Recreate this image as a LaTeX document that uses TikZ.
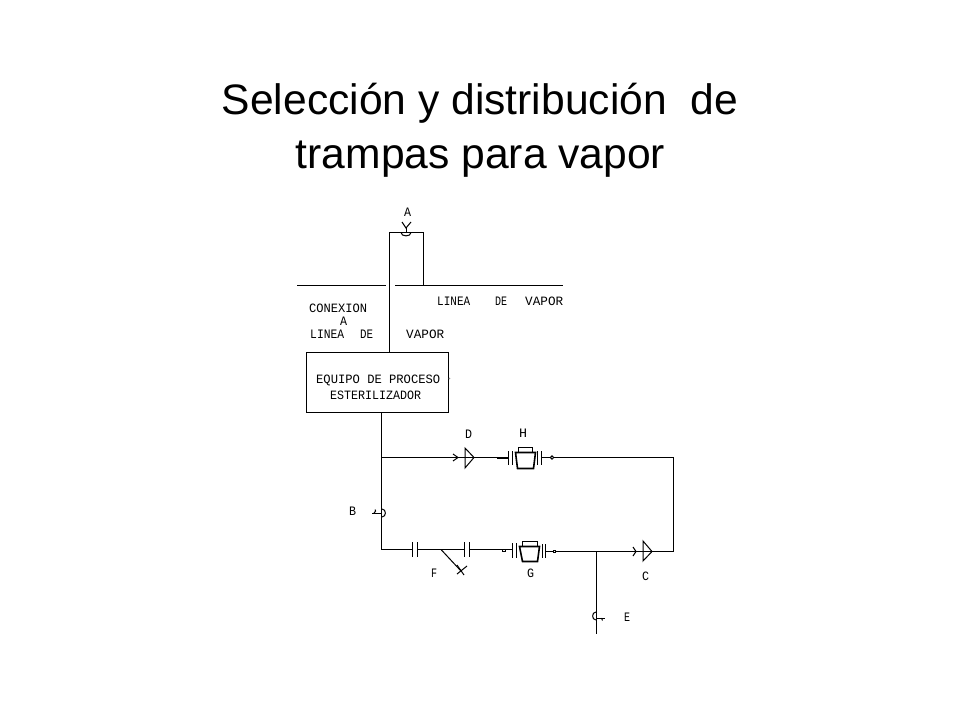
\documentclass[tikz,border=0pt]{standalone}
\usepackage{fontspec}
\setmainfont{Liberation Sans}
\newfontfamily\cadfont{Liberation Mono}
\newcommand{\cadtxt}[2]{\resizebox{#1pt}{8.5pt}{\cadfont #2}}
\tikzset{
  pipe/.style={line width=1.6pt,black},
  thin pipe/.style={line width=1pt,black},
  cadlabel/.style={inner sep=0pt,anchor=base west,text=black},
  titletext/.style={inner sep=0pt,anchor=base,font=\fontsize{42.6}{48}\selectfont,text=black}
}
\begin{document}
\begin{tikzpicture}[x=1pt,y=-1pt]
\useasboundingbox (0,0) rectangle (960,720);
\fill[white] (0,0) rectangle (960,720);
% title
\node[titletext] (t1) at (480,114) {Selección y distribución\ \ de};
\node[titletext] (t2) at (480.5,168) {trampas para vapor};
% upper pipes
\draw[pipe] (297,285.5) -- (386,285.5);
\draw[pipe] (395,285.5) -- (563,285.5);
\draw[pipe] (389.5,352.5) -- (389.5,232.5) -- (423.5,232.5) -- (423.5,285.5);
% valve A
\draw[thin pipe] (402,222) -- (406,228) -- (411,222);
\draw[thin pipe] (406,228) -- (406,232);
\draw[thin pipe] (401,232.5) .. controls (401,237) and (411,237) .. (411,232.5);
% box
\draw[pipe] (306.5,352.5) rectangle (448.5,412.5);
\fill[black!45] (449.5,378.5) circle (0.8);
% main lines
\draw[pipe] (381.5,412.5) -- (381.5,549.5) -- (412.5,549.5);
\draw[pipe] (381.5,457.5) -- (497,457.5);
\draw[line width=2.2pt] (497,458) -- (508,458);
\draw[pipe] (541,457.5) -- (673.5,457.5) -- (673.5,551.5);
\draw[pipe] (417,549.5) -- (464,549.5);
\draw[pipe] (469,549.5) -- (512,549.5);
\draw[pipe] (545,551.5) -- (673.5,551.5);
\draw[pipe] (596.5,551.5) -- (596.5,634);
% valve D
\draw[thin pipe] (453,454) -- (458,457.5) -- (453,461);
\draw[thin pipe] (465,448) -- (465,468) -- (474,457.5) -- cycle;
% trap H
\draw[pipe] (508.5,451) -- (508.5,465) (512.5,451) -- (512.5,465);
\draw[pipe] (537.5,451) -- (537.5,465) (541.5,451) -- (541.5,465);
\draw[pipe] (518.5,452.5) -- (518.5,447.5) -- (532.5,447.5) -- (532.5,452.5);
\draw[pipe] (515.5,452.5) -- (535.5,452.5) -- (533.5,468.5) -- (517.5,468.5) -- cycle;
\draw[thin pipe,fill=white] (552,457.5) circle (1.7);
% valve B
\draw[thin pipe] (382,509) .. controls (386.5,509) and (386.5,517) .. (382,517);
\draw[thin pipe] (372,513) -- (382,513);
\draw[thin pipe] (374,513) .. controls (376,511) .. (375,509.5);
% flanges lower
\draw[pipe] (412.5,542) -- (412.5,557) (417.5,542) -- (417.5,557);
\draw[pipe] (464.5,542) -- (464.5,557) (469.5,542) -- (469.5,557);
% valve F
\draw[thin pipe] (441,549.5) -- (461,571);
\draw[thin pipe] (457,565) -- (464,575);
\draw[thin pipe] (457,574) -- (467,566);
% trap G
\draw[pipe] (512.5,543) -- (512.5,558) (516.5,543) -- (516.5,558);
\draw[pipe] (542.5,544) -- (542.5,558) (545.5,544) -- (545.5,558);
\draw[pipe] (522.5,546.5) -- (522.5,541.5) -- (537.5,541.5) -- (537.5,546.5);
\draw[pipe] (519.5,546.5) -- (539.5,546.5) -- (537.5,561.5) -- (522.5,561.5) -- cycle;
\draw[thin pipe] (502,549.5) rectangle (505,551.5);
\draw[thin pipe,fill=white] (553,550) rectangle (555.5,552.5);
% valve C
\draw[thin pipe] (633,547) -- (636,551.5) -- (633,556);
\draw[thin pipe] (643,541) -- (643,561) -- (652,551.5) -- cycle;
% valve E
\draw[thin pipe] (596,612) .. controls (591.5,612) and (591.5,620) .. (596,620);
\draw[thin pipe] (596,618) -- (605,618);
\draw[thin pipe] (601.5,618) -- (602.5,620.5);
% labels
\node[cadlabel] (la) at (404,216) {\cadtxt{7}{A}};
\node[cadlabel] (l1) at (437,305) {\cadtxt{33}{LINEA}};
\node[cadlabel] (l2) at (495,305) {\cadtxt{12}{DE}};
\node[cadlabel] (l3) at (525,305) {\cadtxt{38}{VAPOR}};
\node[cadlabel] (c1) at (309,312) {\cadtxt{58}{CONEXION}};
\node[cadlabel] (c2) at (340,325) {\cadtxt{7}{A}};
\node[cadlabel] (c3) at (310,338) {\cadtxt{34}{LINEA}};
\node[cadlabel] (c4) at (360,338) {\cadtxt{13}{DE}};
\node[cadlabel] (c5) at (406,338) {\cadtxt{38}{VAPOR}};
\node[cadlabel] (e1) at (316,383) {\cadtxt{124}{EQUIPO DE PROCESO}};
\node[cadlabel] (e2) at (330,399) {\cadtxt{91}{ESTERILIZADOR}};
\node[cadlabel] (ld) at (465,438) {\cadtxt{7}{D}};
\node[cadlabel] (lh) at (519,437) {\cadtxt{8}{H}};
\node[cadlabel] (lb) at (349,515) {\cadtxt{7}{B}};
\node[cadlabel] (lf) at (431,577) {\cadtxt{6}{F}};
\node[cadlabel] (lg) at (527,577) {\cadtxt{7}{G}};
\node[cadlabel] (lc) at (642,580) {\cadtxt{7}{C}};
\node[cadlabel] (le) at (624,621) {\cadtxt{6}{E}};
\end{tikzpicture}
\end{document}
